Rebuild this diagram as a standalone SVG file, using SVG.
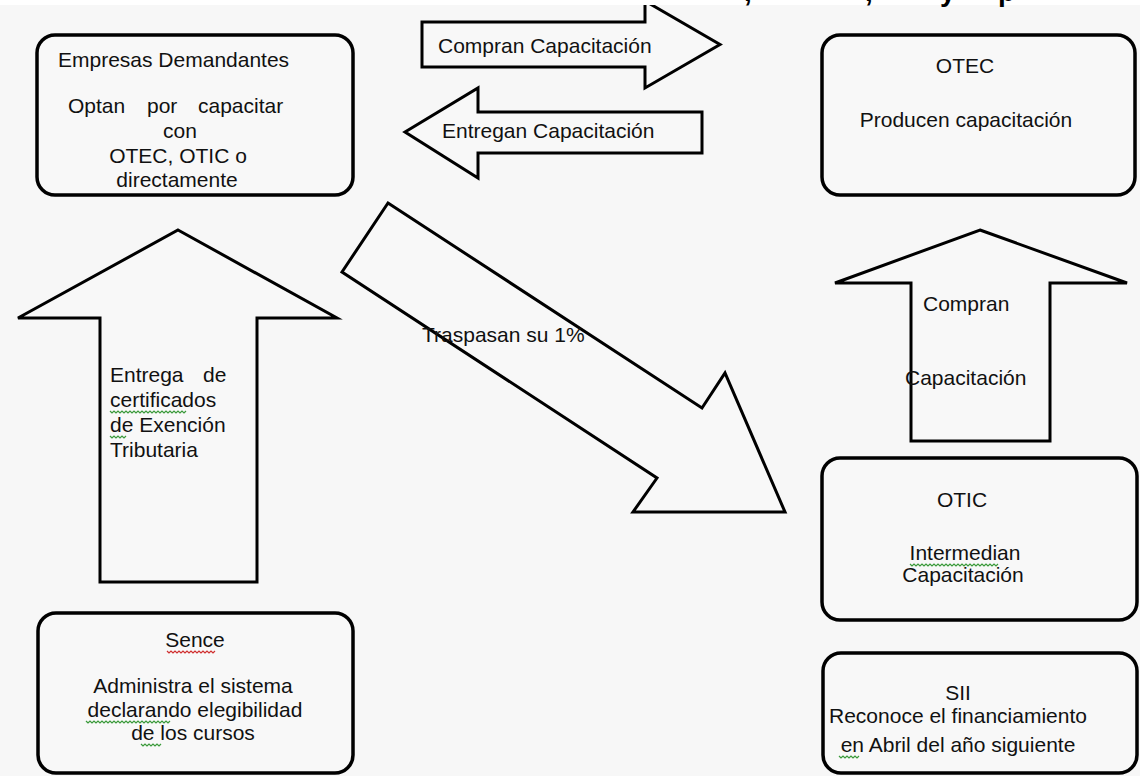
<svg xmlns="http://www.w3.org/2000/svg" width="1140" height="776" viewBox="0 0 1140 776">
<style>
.bg{fill:#f7f7f7}
.box{fill:#f8f8f8;stroke:#000;stroke-width:3.5}
.arr{fill:#f8f8f8;stroke:#000;stroke-width:3;stroke-linejoin:miter}
text{font-family:"Liberation Sans",Arial,sans-serif;font-size:21px;fill:#111}
.c{text-anchor:middle}
.top{font-family:"Liberation Sans",Arial,sans-serif;font-size:28px;font-weight:bold;fill:#000}
.sqg{fill:none;stroke:#3a9a3a;stroke-width:1.2}
.sqr{fill:none;stroke:#d03030;stroke-width:1.2}
</style>
<rect class="bg" x="0" y="0" width="1140" height="776"/>

<g id="connectors">
  <g id="arrow-compran">
    <polygon class="arr" points="422,22 645,22 645,1 720,44.5 645,88 645,67 422,67"/>
    <text x="438" y="53">Compran Capacitación</text>
  </g>
  <g id="arrow-entregan">
    <polygon class="arr" points="702,112 478,112 478,88 405,132 478,178 478,153 702,153"/>
    <text x="442" y="138">Entregan Capacitación</text>
  </g>
  <g id="arrow-certificados">
    <polygon class="arr" points="178,230 337,318 257,318 257,582 100,582 100,318 18,318"/>
    <text x="110" y="382">Entrega</text>
    <text x="203" y="382">de</text>
    <text x="110" y="407">certificados</text>
    <text x="110" y="432">de Exención</text>
    <text x="110" y="457">Tributaria</text>
  </g>
  <g id="arrow-traspasan">
    <polygon class="arr" points="388,203 702,408 725,373 785,512 633,512 657,478 342,272"/>
    <text x="422" y="342">Traspasan su 1%</text>
  </g>
  <g id="arrow-compran2">
    <polygon class="arr" points="980,230 1127,283 1050,283 1050,441 911,441 911,283 835,283"/>
    <text x="923" y="311">Compran</text>
    <text x="905" y="385">Capacitación</text>
  </g>
</g>

<g id="empresas">
  <rect class="box" x="37" y="35" width="316" height="160" rx="18"/>
  <text x="58" y="67">Empresas Demandantes</text>
  <text x="68" y="113">Optan</text>
  <text x="147" y="113">por</text>
  <text x="198" y="113">capacitar</text>
  <text class="c" x="180" y="138">con</text>
  <text class="c" x="178" y="163">OTEC, OTIC o</text>
  <text class="c" x="177" y="187">directamente</text>
</g>

<g id="otec">
  <rect class="box" x="822" y="35" width="313" height="160" rx="18"/>
  <text class="c" x="965" y="73">OTEC</text>
  <text class="c" x="966" y="127">Producen capacitación</text>
</g>

<g id="otic">
  <rect class="box" x="822" y="458" width="315" height="162" rx="18"/>
  <text class="c" x="962" y="507">OTIC</text>
  <text class="c" x="965" y="560">Intermedian</text>
  <text class="c" x="963" y="582">Capacitación</text>
</g>

<g id="sii">
  <rect class="box" x="823" y="653" width="314" height="120" rx="18"/>
  <text class="c" x="958" y="700">SII</text>
  <text class="c" x="958" y="723">Reconoce el financiamiento</text>
  <text class="c" x="958" y="752">en Abril del año siguiente</text>
</g>

<g id="sence">
  <rect class="box" x="38" y="613" width="315" height="160" rx="18"/>
  <text class="c" x="195" y="647">Sence</text>
  <text class="c" x="193" y="693">Administra el sistema</text>
  <text class="c" x="195" y="717">declarando elegibilidad</text>
  <text class="c" x="193" y="740">de los cursos</text>
</g>

<g id="squiggles">
  <path class="sqg" d="M110,411 l2,2 l2,-2 l2,2 l2,-2 l2,2 l2,-2 l2,2 l2,-2 l2,2 l2,-2 l2,2 l2,-2 l2,2 l2,-2 l2,2 l2,-2 l2,2 l2,-2 l2,2 l2,-2 l2,2 l2,-2 l2,2 l2,-2 l2,2 l2,-2 l2,2 l2,-2 l2,2 l2,-2 l2,2 l2,-2 l2,2 l2,-2 l2,2 l2,-2 l2,2 l2,-2"/>
  <path class="sqg" d="M110,436 l2,2 l2,-2 l2,2 l2,-2 l2,2 l2,-2 l2,2 l2,-2"/>
  <path class="sqr" d="M167,651 l2,2 l2,-2 l2,2 l2,-2 l2,2 l2,-2 l2,2 l2,-2 l2,2 l2,-2 l2,2 l2,-2 l2,2 l2,-2 l2,2 l2,-2 l2,2 l2,-2 l2,2 l2,-2 l2,2 l2,-2 l2,2 l2,-2"/>
  <path class="sqg" d="M86,721 l2,2 l2,-2 l2,2 l2,-2 l2,2 l2,-2 l2,2 l2,-2 l2,2 l2,-2 l2,2 l2,-2 l2,2 l2,-2 l2,2 l2,-2 l2,2 l2,-2 l2,2 l2,-2 l2,2 l2,-2 l2,2 l2,-2 l2,2 l2,-2 l2,2 l2,-2 l2,2 l2,-2 l2,2 l2,-2 l2,2 l2,-2 l2,2 l2,-2 l2,2 l2,-2 l2,2 l2,-2 l2,2 l2,-2"/>
  <path class="sqg" d="M141,744 l2,2 l2,-2 l2,2 l2,-2 l2,2 l2,-2 l2,2 l2,-2 l2,2 l2,-2"/>
  <path class="sqg" d="M910,564 l2,2 l2,-2 l2,2 l2,-2 l2,2 l2,-2 l2,2 l2,-2 l2,2 l2,-2 l2,2 l2,-2 l2,2 l2,-2 l2,2 l2,-2 l2,2 l2,-2 l2,2 l2,-2 l2,2 l2,-2 l2,2 l2,-2 l2,2 l2,-2 l2,2 l2,-2 l2,2 l2,-2 l2,2 l2,-2 l2,2 l2,-2 l2,2 l2,-2 l2,2 l2,-2 l2,2 l2,-2 l2,2 l2,-2 l2,2 l2,-2"/>
  <path class="sqg" d="M839,756 l2,2 l2,-2 l2,2 l2,-2 l2,2 l2,-2 l2,2 l2,-2 l2,2 l2,-2"/>
</g>

<rect x="0" y="0" width="1140" height="5" fill="#ffffff"/>
<g id="cut-heading">
  <text class="top" x="744" y="1">,</text>
  <text class="top" x="865" y="1">,</text>
  <text class="top" x="940" y="1">y</text>
  <text class="top" x="998" y="1">p</text>
</g>
</svg>
